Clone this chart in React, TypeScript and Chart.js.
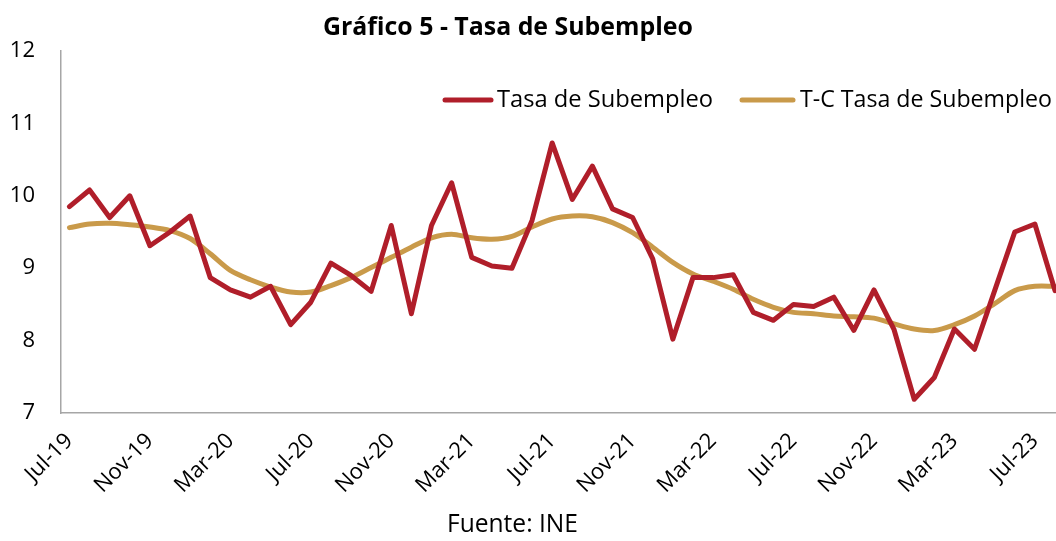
import React, { useEffect, useRef } from "react";
import { Chart, registerables } from "chart.js";

Chart.register(...registerables);

const meses = [
  "Jul-19", "Aug-19", "Sep-19", "Oct-19", "Nov-19", "Dec-19",
  "Jan-20", "Feb-20", "Mar-20", "Apr-20", "May-20", "Jun-20",
  "Jul-20", "Aug-20", "Sep-20", "Oct-20", "Nov-20", "Dec-20",
  "Jan-21", "Feb-21", "Mar-21", "Apr-21", "May-21", "Jun-21",
  "Jul-21", "Aug-21", "Sep-21", "Oct-21", "Nov-21", "Dec-21",
  "Jan-22", "Feb-22", "Mar-22", "Apr-22", "May-22", "Jun-22",
  "Jul-22", "Aug-22", "Sep-22", "Oct-22", "Nov-22", "Dec-22",
  "Jan-23", "Feb-23", "Mar-23", "Apr-23", "May-23", "Jun-23",
  "Jul-23", "Aug-23",
];

const etiquetasEje = [0, 4, 8, 12, 16, 20, 24, 28, 32, 36, 40, 44, 48];

const tasaSubempleo = [
  9.85, 10.08, 9.70, 10.00, 9.31, 9.50,
  9.72, 8.87, 8.70, 8.60, 8.75, 8.22,
  8.53, 9.07, 8.90, 8.68, 9.59, 8.37,
  9.59, 10.18, 9.15, 9.03, 9.00, 9.66,
  10.73, 9.95, 10.41, 9.82, 9.70, 9.13,
  8.02, 8.87, 8.87, 8.91, 8.39, 8.28,
  8.50, 8.47, 8.60, 8.14, 8.70, 8.15,
  7.19, 7.49, 8.16, 7.88, 8.69, 9.50,
  9.61, 8.69,
];

const tendenciaCiclo = [
  9.56, 9.61, 9.62, 9.60, 9.57, 9.52,
  9.41, 9.20, 8.97, 8.84, 8.74, 8.67,
  8.67, 8.76, 8.87, 9.01, 9.15, 9.29,
  9.42, 9.47, 9.42, 9.40, 9.44, 9.57,
  9.68, 9.72, 9.71, 9.63, 9.49, 9.29,
  9.08, 8.92, 8.82, 8.71, 8.57, 8.46,
  8.39, 8.37, 8.34, 8.33, 8.31, 8.23,
  8.16, 8.14, 8.22, 8.34, 8.51, 8.69,
  8.75, 8.75,
];

const yTicks = [7, 8, 9, 10, 11, 12];

const TITULO = "Gráfico 5 - Tasa de Subempleo";
const FUENTE = "Fuente: INE";
const SERIE1 = "Tasa de Subempleo";
const SERIE2 = "T-C Tasa de Subempleo";

const ROJO = "#B01E2A";
const DORADO = "#C99A4A";
const FONT = "'Open Sans', Lato, sans-serif";

function fitFont(ctx: CanvasRenderingContext2D, text: string, weight: string, target: number) {
  ctx.font = `${weight} 100px ${FONT}`;
  const w = ctx.measureText(text).width;
  const size = (100 * target) / w;
  ctx.font = `${weight} ${size.toFixed(2)}px ${FONT}`;
}

const overlay = {
  id: "overlay",
  afterDraw(chart: any) {
    const ctx = chart.ctx as CanvasRenderingContext2D;
    ctx.save();
    ctx.fillStyle = "#000";
    ctx.textBaseline = "middle";
    ctx.textAlign = "left";

    fitFont(ctx, TITULO, "bold", 370);
    ctx.fillText(TITULO, 323, 28);

    fitFont(ctx, FUENTE, "normal", 131);
    ctx.fillText(FUENTE, 447, 525);

    // legend
    const ly = 100;
    ctx.lineCap = "round";
    ctx.lineWidth = 5;
    ctx.strokeStyle = ROJO;
    ctx.beginPath();
    ctx.moveTo(445, ly);
    ctx.lineTo(491, ly);
    ctx.stroke();
    fitFont(ctx, SERIE1, "normal", 216);
    ctx.fillText(SERIE1, 497, ly);

    ctx.strokeStyle = DORADO;
    ctx.beginPath();
    ctx.moveTo(742, ly);
    ctx.lineTo(793, ly);
    ctx.stroke();
    fitFont(ctx, SERIE2, "normal", 252);
    ctx.fillText(SERIE2, 800, ly);
    ctx.restore();
  },
};

export default function App() {
  const ref = useRef<HTMLCanvasElement | null>(null);

  useEffect(() => {
    if (!ref.current) return;
    const chart = new Chart(ref.current, {
      type: "line",
      data: {
        datasets: [
          {
            label: SERIE1,
            data: tasaSubempleo.map((v, i) => ({ x: i, y: v })),
            borderColor: ROJO,
            backgroundColor: ROJO,
            borderWidth: 5,
            pointRadius: 0,
            tension: 0,
            borderJoinStyle: "round",
            borderCapStyle: "round",
          },
          {
            label: SERIE2,
            data: tendenciaCiclo.map((v, i) => ({ x: i, y: v })),
            borderColor: DORADO,
            backgroundColor: DORADO,
            borderWidth: 5,
            pointRadius: 0,
            tension: 0.3,
            borderJoinStyle: "round",
            borderCapStyle: "round",
          },
        ],
      },
      options: {
        animation: false,
        responsive: false,
        layout: { padding: { top: 51, right: 0, left: 0, bottom: 0 } },
        plugins: {
          legend: { display: false },
          title: { display: false },
          tooltip: { enabled: false },
        },
        scales: {
          x: {
            type: "linear",
            min: -0.42,
            max: 49.05,
            grid: { display: false, drawTicks: false },
            border: { display: true, color: "#A6A6A6", width: 1.5 },
            afterBuildTicks: (scale: any) => {
              scale.ticks = etiquetasEje.map((v) => ({ value: v }));
            },
            afterFit: (scale: any) => {
              scale.height = 128;
              scale.paddingRight = 0;
              scale.paddingLeft = 0;
            },
            ticks: {
              autoSkip: false,
              minRotation: 45,
              maxRotation: 45,
              padding: 15,
              color: "#000",
              font: { family: FONT, size: 22 },
              callback: (value: any) => meses[Math.round(Number(value))] ?? "",
            },
          },
          y: {
            min: 7,
            max: 12,
            grid: { display: false, drawTicks: false },
            border: { display: true, color: "#A6A6A6", width: 1.5 },
            afterBuildTicks: (scale: any) => {
              scale.ticks = yTicks.map((v) => ({ value: v }));
            },
            afterFit: (scale: any) => {
              scale.width = 61;
            },
            ticks: {
              padding: 26,
              color: "#000",
              font: { family: FONT, size: 22 },
            },
          },
        },
      },
      plugins: [overlay],
    });
    return () => chart.destroy();
  }, []);

  return (
    <div style={{ position: "absolute", left: 0, top: 0, width: 1056, height: 541, background: "#fff" }}>
      <canvas ref={ref} width={1056} height={541} style={{ display: "block" }} />
    </div>
  );
}
